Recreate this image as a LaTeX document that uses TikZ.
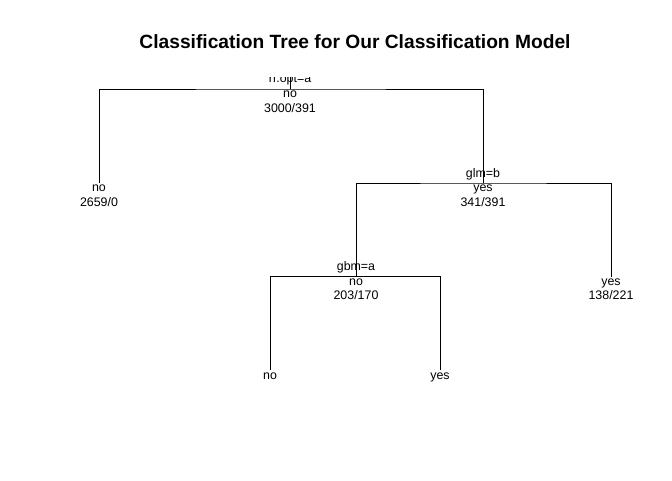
\documentclass[tikz,border=0pt]{standalone}
\usepackage{fontspec}
\setmainfont{Liberation Sans}
\begin{document}
\begin{tikzpicture}[x=1pt,y=-1pt,
  lab/.style={anchor=base,inner sep=0pt,font=\fontsize{12.4}{14}\selectfont},
  edge/.style={draw=black,line width=0.8pt}]
\useasboundingbox (0,0) rectangle (672,480);
\node[anchor=base,inner sep=0pt,font=\fontsize{19.2}{22}\selectfont\bfseries] (title) at (355,48) {Classification Tree for Our Classification Model};
% tree node positions
\coordinate (r)  at (290,89);
\coordinate (n1) at (99,183);
\coordinate (n2) at (483,183);
\coordinate (n3) at (356,276.5);
\coordinate (n4) at (611,276.5);
\coordinate (n5) at (270,370);
\coordinate (n6) at (440,370);
% edges
\draw[edge] (n1) |- (r) -| (n2);
\draw[edge] (n3) |- (n2) -| (n4);
\draw[edge] (n5) |- (n3) -| (n6);
\begin{scope}
  \clip (0,77) rectangle (672,480);
  \coordinate (rtop) at (290,60);
  \draw[edge] (rtop) -- (r);
  \node[lab] (rsplit) at (290,82.5) {rf.opt=a};
\end{scope}
% labels
\node[lab] (ryval) at (290,97.5) {no};
\node[lab] (rn) at (290,112) {3000/391};
\node[lab] (n1yval) at (99,191.5) {no};
\node[lab] (n1n) at (99,206) {2659/0};
\node[lab] (n2split) at (483,177) {glm=b};
\node[lab] (n2yval) at (483,191.5) {yes};
\node[lab] (n2n) at (483,206) {341/391};
\node[lab] (n3split) at (356,270.5) {gbm=a};
\node[lab] (n3yval) at (356,285.5) {no};
\node[lab] (n3n) at (356,299.5) {203/170};
\node[lab] (n4yval) at (611,285.5) {yes};
\node[lab] (n4n) at (611,299.5) {138/221};
\node[lab] (n5yval) at (270,379) {no};
\node[lab] (n6yval) at (440,379) {yes};
\end{tikzpicture}
\end{document}
